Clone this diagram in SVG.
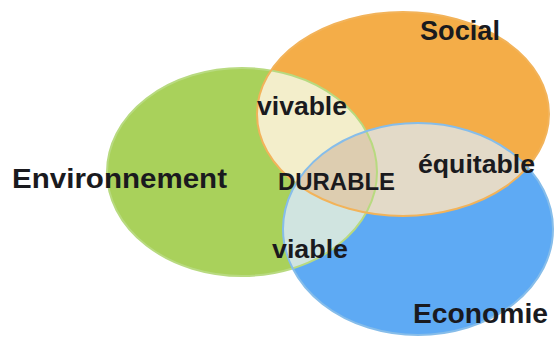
<svg xmlns="http://www.w3.org/2000/svg" width="555" height="338" viewBox="0 0 555 338">
  <style>
    .lbl { font-family: "Liberation Sans", Arial, sans-serif; font-weight: bold; fill: #1a1a1e; }
  </style>
  <defs>
    <ellipse id="eG" cx="242" cy="172" rx="135" ry="104"/>
    <ellipse id="eO" cx="403" cy="114" rx="146" ry="102"/>
    <ellipse id="eB" cx="418" cy="229" rx="135" ry="106"/>
    <clipPath id="cG"><use href="#eG"/></clipPath>
    <clipPath id="cO"><use href="#eO"/></clipPath>
    <clipPath id="cB"><use href="#eB"/></clipPath>
  </defs>
  <rect width="555" height="338" fill="#ffffff"/>
  <g id="environnement">
    <use href="#eG" fill="#a9d15b"/>
  </g>
  <g id="social">
    <use href="#eO" fill="#f4ad48"/>
  </g>
  <g id="economie">
    <use href="#eB" fill="#5eaaf4"/>
  </g>
  <g id="intersections">
    <g clip-path="url(#cG)"><use href="#eO" fill="#f3eecb"/></g>
    <g clip-path="url(#cO)"><use href="#eB" fill="#e3dac8"/></g>
    <g clip-path="url(#cG)"><use href="#eB" fill="#d0e4e0"/></g>
    <g clip-path="url(#cG)"><g clip-path="url(#cO)"><use href="#eB" fill="#ddcdb0"/></g></g>
  </g>
  <g id="outlines" fill="none" stroke-width="2">
    <use href="#eG" stroke="#b8da80"/>
    <use href="#eO" stroke="#f2b35a"/>
    <use href="#eB" stroke="#86bdea"/>
  </g>
  <g id="labels">
    <text class="lbl" x="420" y="40" font-size="27" textLength="80" lengthAdjust="spacingAndGlyphs">Social</text>
    <text class="lbl" x="12" y="188" font-size="28" textLength="215" lengthAdjust="spacingAndGlyphs">Environnement</text>
    <text class="lbl" x="413" y="323" font-size="28" textLength="135" lengthAdjust="spacingAndGlyphs" fill="#0f1a30">Economie</text>
    <text class="lbl" x="257" y="115" font-size="25" textLength="90" lengthAdjust="spacingAndGlyphs">vivable</text>
    <text class="lbl" x="278" y="190" font-size="24" textLength="117" lengthAdjust="spacingAndGlyphs">DURABLE</text>
    <text class="lbl" x="418" y="173" font-size="25" textLength="117" lengthAdjust="spacingAndGlyphs">équitable</text>
    <text class="lbl" x="272" y="258" font-size="25" textLength="76" lengthAdjust="spacingAndGlyphs">viable</text>
  </g>
</svg>
